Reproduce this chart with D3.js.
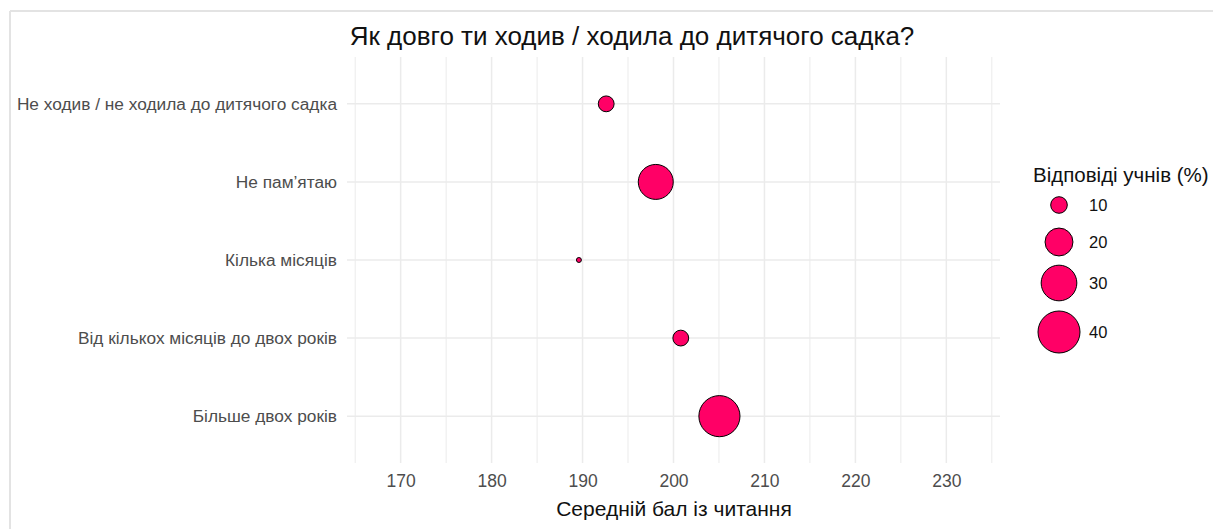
<!DOCTYPE html>
<html>
<head>
  <meta charset="utf-8" />
  <title>Як довго ти ходив / ходила до дитячого садка?</title>
  <script src="https://d3js.org/d3.v7.min.js"></script>
  <style>
    body { margin: 0; background: #fff; }
    text { font-family: "Liberation Sans", Arial, sans-serif; }
  </style>
</head>
<body>
  <div id="chart"></div>
  <script type="text/javascript">

    // data
    var categories = [
      "Не ходив / не ходила до дитячого садка",
      "Не пам’ятаю",
      "Кілька місяців",
      "Від кількох місяців до двох років",
      "Більше двох років"
    ];
    var meanScores = [192.6, 198.05, 189.6, 200.8, 205.05];
    var sharePct = [9.5, 29, 5.3, 9.5, 38.5];
    var xTicks = [170, 180, 190, 200, 210, 220, 230];
    var xMinor = [165, 175, 185, 195, 205, 215, 225, 235];
    var legendBreaks = [10, 20, 30, 40];

    var width = 1213, height = 529;

    var svg = d3.select("#chart").append("svg")
      .attr("width", width)
      .attr("height", height);

    /* frame of the screenshot */
    svg.append("line").attr("x1", 10).attr("x2", width).attr("y1", 11).attr("y2", 11)
      .style("stroke", "#e3e3e3").style("stroke-width", 2);
    svg.append("line").attr("x1", 10).attr("x2", 10).attr("y1", 11).attr("y2", height)
      .style("stroke", "#e3e3e3").style("stroke-width", 2);

    var x = d3.scaleLinear().domain([164.1, 235.9]).range([347, 1000]);
    var y = d3.scalePoint().domain(categories).range([57, 463]).padding(0.6);

    // ggplot-like area scale: sqrt of distance from lower limit
    var sizeMin = 5;
    var r = d3.scaleSqrt().domain([0, 35]).range([0.6, 21]);
    function radius(v) { return r(Math.max(0, v - sizeMin)); }

    var grid = svg.append("g");
    grid.selectAll(".minor").data(xMinor).enter().append("line")
      .attr("x1", x).attr("x2", x).attr("y1", 57).attr("y2", 463)
      .style("stroke", "#ebebeb").style("stroke-width", 1);
    grid.selectAll(".major").data(xTicks).enter().append("line")
      .attr("x1", x).attr("x2", x).attr("y1", 57).attr("y2", 463)
      .style("stroke", "#ebebeb").style("stroke-width", 1.5);
    grid.selectAll(".hz").data(categories).enter().append("line")
      .attr("x1", 347).attr("x2", 1000)
      .attr("y1", function (d) { return y(d); })
      .attr("y2", function (d) { return y(d); })
      .style("stroke", "#ebebeb").style("stroke-width", 1.5);

    var xAxis = svg.append("g")
      .attr("transform", "translate(0,463)")
      .call(d3.axisBottom(x).tickValues(xTicks).tickSize(0).tickPadding(12));
    xAxis.select(".domain").remove();
    xAxis.selectAll("text")
      .style("font-size", "17.5px").style("fill", "#4d4d4d")
      .style("font-family", "Liberation Sans, Arial, sans-serif");

    var yAxis = svg.append("g")
      .attr("transform", "translate(337,0)")
      .call(d3.axisLeft(y).tickSize(0).tickPadding(0));
    yAxis.select(".domain").remove();
    yAxis.selectAll("text")
      .style("font-size", "17.3px").style("fill", "#4d4d4d")
      .style("font-family", "Liberation Sans, Arial, sans-serif");

    var pts = categories.map(function (c, i) {
      return { cat: c, score: meanScores[i], pct: sharePct[i] };
    });

    svg.append("g").selectAll("circle")
      .data(pts)
      .enter().append("circle")
      .attr("cx", function (d) { return x(d.score); })
      .attr("cy", function (d) { return y(d.cat); })
      .attr("r", function (d) { return radius(d.pct); })
      .style("fill", "#ff0066")
      .style("stroke", "#000")
      .style("stroke-width", 1);

    svg.append("text")
      .attr("x", 632).attr("y", 45)
      .attr("text-anchor", "middle")
      .style("font-size", "26px").style("fill", "#111")
      .text("Як довго ти ходив / ходила до дитячого садка?");

    svg.append("text")
      .attr("x", 674).attr("y", 516)
      .attr("text-anchor", "middle")
      .style("font-size", "21px").style("fill", "#111")
      .text("Середній бал із читання");

    /* legend */
    var legend = svg.append("g");
    legend.append("text")
      .attr("x", 1033).attr("y", 182)
      .style("font-size", "20.5px").style("fill", "#111")
      .text("Відповіді учнів (%)");
    var keyY = [205, 242, 283, 332];
    var keys = legend.selectAll(".key").data(legendBreaks).enter().append("g");
    keys.append("circle")
      .attr("cx", 1059)
      .attr("cy", function (d, i) { return keyY[i]; })
      .attr("r", radius)
      .style("fill", "#ff0066")
      .style("stroke", "#000")
      .style("stroke-width", 1);
    keys.append("text")
      .attr("x", 1089)
      .attr("y", function (d, i) { return keyY[i] + 6; })
      .style("font-size", "16.5px").style("fill", "#111")
      .text(function (d) { return d; });
  </script>
</body>
</html>
